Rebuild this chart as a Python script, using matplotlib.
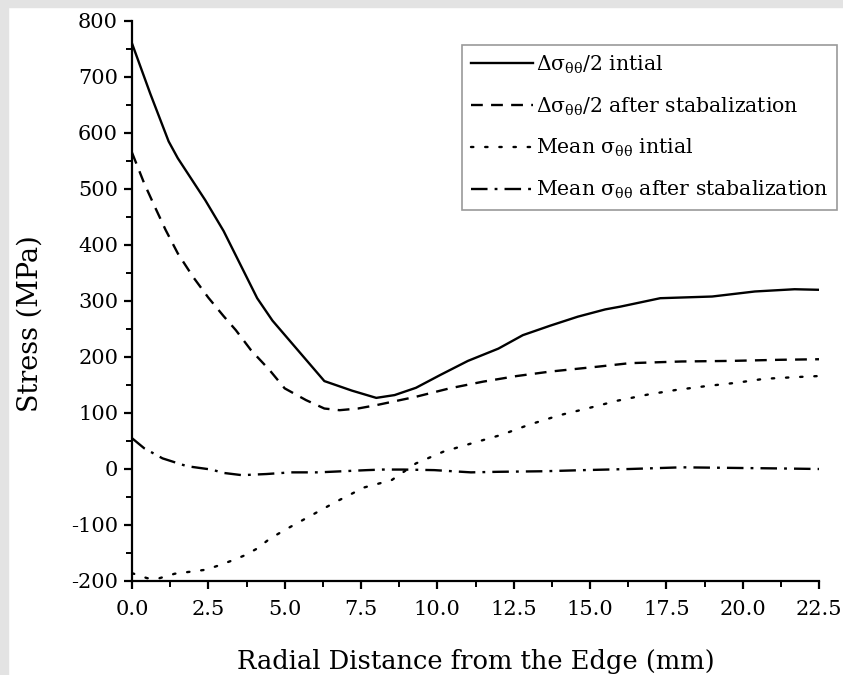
import matplotlib
matplotlib.use("Agg")
import matplotlib.pyplot as plt
from matplotlib.patches import Rectangle
from matplotlib.ticker import MultipleLocator, FormatStrFormatter

plt.rcParams['font.family'] = ['DejaVu Serif']
plt.rcParams['mathtext.fontset'] = 'dejavuserif'
plt.rcParams['mathtext.default'] = 'regular'
plt.rcParams['axes.unicode_minus'] = False

# Δσθθ/2 initial
x_amp_init = [0, 0.6, 1.2, 1.5, 2.4, 3.0, 4.1, 4.6, 6.3, 7.2, 8.0, 8.6, 9.3, 10.1, 11.0, 12.0, 12.8, 13.7, 14.6, 15.5, 16.0, 17.3, 19.0, 20.4, 21.7, 22.5]
y_amp_init = [760, 670, 585, 555, 480, 425, 305, 265, 157, 140, 127, 132, 145, 168, 193, 215, 239, 256, 272, 285, 290, 305, 308, 317, 321, 320]

# Δσθθ/2 after stabilization
x_amp_stab = [0, 0.4, 0.75, 1.1, 1.5, 2.0, 2.5, 3.0, 3.4, 3.9, 4.5, 5.0, 5.7, 6.3, 6.8, 7.4, 8.0, 9.3, 10.4, 11.5, 12.6, 13.7, 15.3, 16.3, 18.0, 19.6, 21.2, 22.5]
y_amp_stab = [565, 510, 468, 427, 385, 343, 306, 273, 248, 212, 177, 144, 123, 108, 105, 108, 114, 129, 144, 156, 166, 174, 183, 189, 192, 193, 195, 196]

# Mean σθθ initial
x_mean_init = [0, 0.5, 0.9, 1.4, 2.4, 2.8, 3.3, 3.7, 4.1, 4.5, 5.0, 5.8, 6.7, 7.6, 8.5, 8.9, 9.3, 10.2, 11.2, 12.1, 13.0, 14.0, 14.9, 15.9, 16.9, 17.8, 18.8, 19.8, 20.7, 21.7, 22.5]
y_mean_init = [-186, -195, -195, -187, -180, -173, -163, -154, -142, -125, -109, -85, -58, -33, -20, -5, 10, 31, 47, 61, 79, 96, 108, 122, 133, 141, 148, 154, 161, 164, 166]

# Mean σθθ after stabilization
x_mean_stab = [0, 0.4, 1.0, 1.8, 2.6, 3.0, 3.6, 4.4, 5.2, 6.1, 6.9, 7.7, 8.2, 8.9, 9.9, 11.1, 12.0, 13.5, 14.8, 16.3, 18.0, 19.6, 21.2, 22.5]
y_mean_stab = [55, 37, 19, 5, -1, -7, -11, -9, -6, -6, -4, -2, -1, -1, -2, -6, -5, -4, -2, 0, 3, 2, 1, 0]

labels = [r'Δσ$_{θθ}$/2 intial',
          r'Δσ$_{θθ}$/2 after stabalization',
          r'Mean σ$_{θθ}$ intial',
          r'Mean σ$_{θθ}$ after stabalization']

W, H = 843, 675
fig = plt.figure(figsize=(W / 100, H / 100), dpi=100)
fig.patch.set_facecolor('white')
gray = '#e3e3e3'
fig.patches.append(Rectangle((0, 0), 8 / W, 1, transform=fig.transFigure, color=gray, zorder=-10))
fig.patches.append(Rectangle((0, 1 - 7 / H), 1, 7 / H, transform=fig.transFigure, color=gray, zorder=-10))

ax = fig.add_axes([132 / W, 1 - 581 / H, (819 - 132) / W, (581 - 21) / H])
lw = 1.7
ax.plot(x_amp_init, y_amp_init, color='black', lw=lw, linestyle='-', label=labels[0])
ax.plot(x_amp_stab, y_amp_stab, color='black', lw=lw, linestyle=(0, (5, 3.5)), label=labels[1])
ax.plot(x_mean_init, y_mean_init, color='black', lw=lw, linestyle=(0, (1, 5)), dash_capstyle='round', label=labels[2])
ax.plot(x_mean_stab, y_mean_stab, color='black', lw=lw, linestyle=(0, (7, 3, 1.2, 3)), label=labels[3])

ax.set_xlim(0, 22.5)
ax.set_ylim(-200, 800)
ax.xaxis.set_major_locator(MultipleLocator(2.5))
ax.xaxis.set_minor_locator(MultipleLocator(1.25))
ax.yaxis.set_major_locator(MultipleLocator(100))
ax.yaxis.set_minor_locator(MultipleLocator(50))
ax.xaxis.set_major_formatter(FormatStrFormatter('%.1f'))
for s in ['top', 'right']:
    ax.spines[s].set_visible(False)
for s in ['left', 'bottom']:
    ax.spines[s].set_linewidth(1.6)
ax.tick_params(which='major', direction='out', length=6, width=1.6, labelsize=15, colors='black')
ax.tick_params(axis='x', which='major', pad=8)
ax.tick_params(axis='y', which='major', pad=4)
ax.tick_params(which='minor', direction='out', length=4, width=1.4)
ax.set_xlabel('Radial Distance from the Edge (mm)', fontsize=18.5, labelpad=21)
ax.set_ylabel('Stress (MPa)', fontsize=19.5)
ax.yaxis.set_label_coords(-0.128, 0.46)

leg = ax.legend(loc='upper left', bbox_to_anchor=(462 / W, 1 - 45 / H), bbox_transform=fig.transFigure,
                fontsize=14.7, frameon=True, fancybox=False, handlelength=3.05, handletextpad=0.15,
                labelspacing=0.95, borderpad=0.42, borderaxespad=0)
leg.get_frame().set_edgecolor('#808080')
leg.get_frame().set_linewidth(1.2)

fig.savefig('out.png', dpi=100)
